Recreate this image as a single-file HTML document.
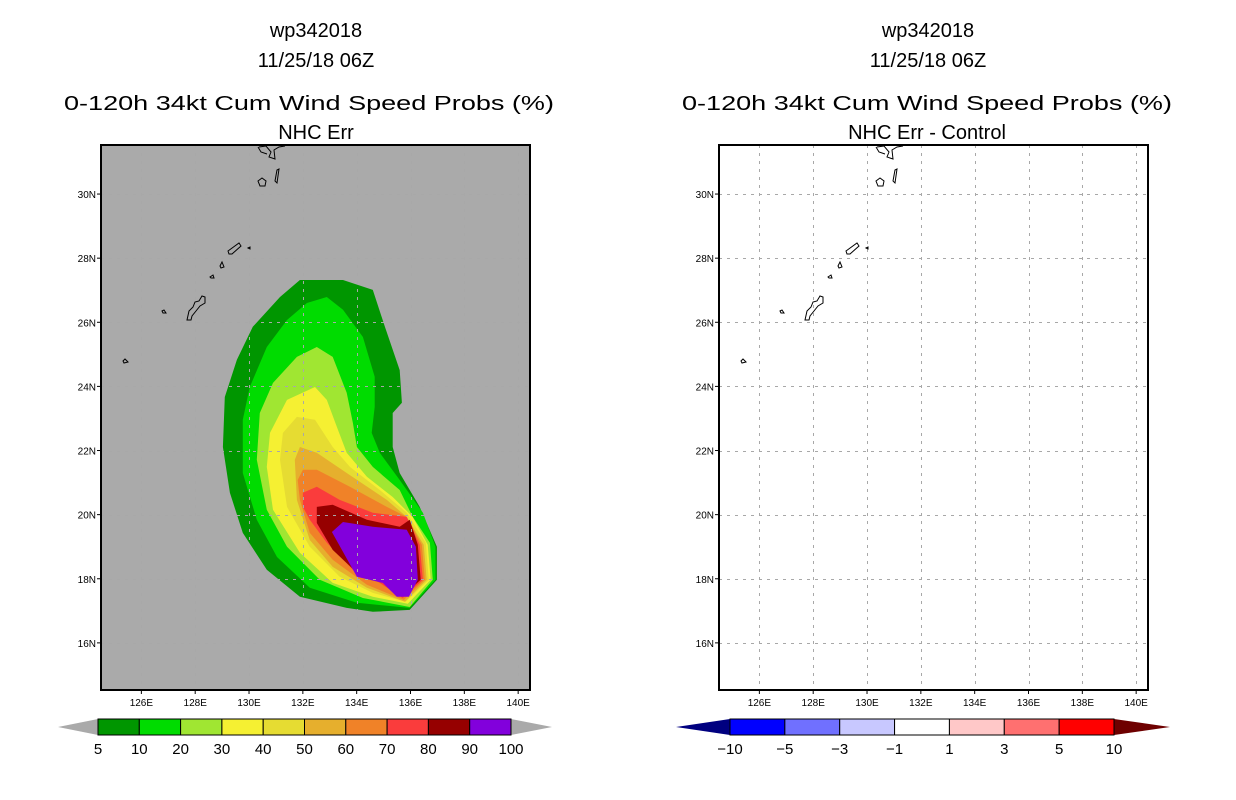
<!DOCTYPE html>
<html><head><meta charset="utf-8">
<style>
html,body{margin:0;padding:0;background:#fff;}
svg{display:block;font-family:"Liberation Sans",sans-serif;}
</style></head>
<body>
<svg id="root" width="1236" height="800" viewBox="0 0 1236 800">
  <g font-size="20" text-anchor="middle" fill="#000">
    <text x="316" y="37">wp342018</text>
    <text x="316" y="67">11/25/18 06Z</text>
    <text x="309" y="110" textLength="490" lengthAdjust="spacingAndGlyphs">0-120h 34kt Cum Wind Speed Probs (%)</text>
    <text x="316" y="139">NHC Err</text>
  </g>
  <g font-size="20" text-anchor="middle" fill="#000">
    <text x="928" y="37">wp342018</text>
    <text x="928" y="67">11/25/18 06Z</text>
    <text x="927" y="110" textLength="490" lengthAdjust="spacingAndGlyphs">0-120h 34kt Cum Wind Speed Probs (%)</text>
    <text x="927" y="139">NHC Err - Control</text>
  </g>
  <g id="leftPanel"></g>
  <g id="rightPanel"></g>
  <g id="leftBar"></g>
  <g id="rightBar"></g>
</svg>
<script>
// ---- data ----
const lonTicks = [126,128,130,132,134,136,138,140];
const latTicks = [16,18,20,22,24,26,28,30];
const probLevels = [5,10,20,30,40,50,60,70,80,90,100];
const probColors = ["#009600","#00dc00","#a0e632","#f5f032","#e6dc32","#e6af2d","#f08228","#fa3c3c","#960000","#8200dc"];
const diffLevels = [-10,-5,-3,-1,1,3,5,10];
const diffColors = ["#0000ff","#7070ff","#c8c8ff","#ffffff","#ffc8c8","#ff7070","#ff0000"];
// contour polygons (lon, lat) for each probability band
const c5Lon = [132.52,133.49,134.60,135.05,135.60,135.68,135.34,135.34,135.60,136.34,136.98,136.98,135.97,134.60,133.63,131.89,130.66,129.77,129.29,129.03,129.10,129.55,130.14,131.15,131.89];
const c5Lat = [27.32,27.32,27.01,25.86,24.51,23.49,23.17,22.11,21.30,20.24,19.00,17.97,17.03,16.97,17.09,17.44,18.28,19.43,20.68,22.11,23.67,24.83,25.86,26.79,27.32];
const c10Lon = [132.89,133.49,134.23,134.67,134.67,134.56,134.86,135.60,136.46,136.93,136.93,135.97,134.01,132.26,131.04,130.29,129.77,129.77,130.03,130.66,131.41,132.15];
const c10Lat = [26.79,26.39,25.54,24.30,23.36,22.55,21.93,21.08,20.06,19.00,17.97,17.09,17.25,17.72,18.68,19.84,21.30,22.96,23.98,25.23,26.07,26.60];
const c20Lon = [132.52,133.11,133.63,133.86,134.01,134.60,135.60,136.08,136.72,136.83,135.97,134.23,132.63,131.41,130.66,130.29,130.40,130.89,131.78];
const c20Lat = [25.23,24.92,23.80,22.86,22.11,21.49,20.77,19.93,19.12,17.97,17.12,17.40,17.97,19.00,20.15,21.71,23.17,24.11,24.92];
const c30Lon = [132.45,132.89,133.26,133.63,134.38,135.34,136.08,136.64,136.75,135.90,134.60,133.11,131.89,130.89,130.66,130.78,131.41];
const c30Lat = [23.98,23.58,22.74,21.93,21.18,20.55,19.93,19.06,17.97,17.22,17.44,17.87,18.81,20.15,21.49,22.55,23.58];
const c40Lon = [131.78,132.45,133.11,133.75,134.86,135.86,136.57,136.68,135.82,134.60,133.37,132.26,131.41,131.15,131.26];
const c40Lat = [23.05,22.96,22.11,21.49,20.77,20.06,19.12,17.97,17.28,17.56,18.06,19.00,20.24,21.71,22.55];
const c50Lon = [131.89,132.52,133.63,135.12,135.86,136.49,136.60,135.79,134.38,133.11,132.26,131.78,131.70];
const c50Lat = [22.11,21.93,21.30,20.46,19.93,19.06,17.97,17.28,17.72,18.37,19.21,20.46,21.71];
const c60Lon = [132.00,132.52,133.75,135.12,135.86,136.42,136.53,135.75,134.38,133.11,132.26,131.89,131.81];
const c60Lat = [21.40,21.40,20.87,20.24,19.93,19.06,17.97,17.34,17.81,18.59,19.43,20.46,21.08];
const c70Lon = [132.00,132.52,133.37,134.60,135.86,136.34,136.46,135.71,134.86,133.86,132.89,132.26,132.00];
const c70Lat = [20.68,20.87,20.46,20.06,19.93,19.06,17.97,17.40,17.87,18.28,19.12,19.84,20.24];
const c80Lon = [132.52,133.11,134.38,135.60,135.97,136.27,136.38,135.68,134.97,134.01,133.11,132.52];
const c80Lat = [20.24,20.31,19.84,19.62,19.84,19.06,17.97,17.44,17.97,18.19,18.90,19.74];
const c90Lon = [133.08,133.49,134.60,135.86,136.20,136.27,135.94,135.49,134.97,134.01];
const c90Lat = [19.46,19.77,19.62,19.53,19.00,17.97,17.44,17.44,17.87,18.06];
const bandLons = [c5Lon,c10Lon,c20Lon,c30Lon,c40Lon,c50Lon,c60Lon,c70Lon,c80Lon,c90Lon];
const bandLats = [c5Lat,c10Lat,c20Lat,c30Lat,c40Lat,c50Lat,c60Lat,c70Lat,c80Lat,c90Lat];

// ---- axes ----
const LON0=124.5, LON1=140.44, LAT0=14.53, LAT1=31.53;
const PW=429, PH=545, PY=145;
function xScale(lon, px){ return px + (lon-LON0)/(LON1-LON0)*PW; }
function yScale(lat){ return PY + (LAT1-lat)/(LAT1-LAT0)*PH; }

const NS="http://www.w3.org/2000/svg";
function mk(tag, attrs, parent){
  const e=document.createElementNS(NS,tag);
  for(const k in attrs) e.setAttribute(k, attrs[k]);
  parent.appendChild(e); return e;
}
// island outlines, pixel offsets relative to panel left (decorative coastline)
const islands = [
  "M158,147 L165,146 L170,152 L168,157 L174,159 L173,150 L178,147 L184,146 M157,147 L160,152 L166,154",
  "M157,181 L161,178 L165,181 L164,186 L159,186 Z",
  "M174,181 L176,170 L178,169 L176,183 Z",
  "M127,251 L138,243 L140,246 L131,254 L128,254 Z",
  "M147,248 L149,247 L149,249 Z",
  "M119,266 L121,262 L123,267 L120,268 Z",
  "M109,277 L112,275 L113,278 L110,278 Z",
  "M86,320 L88,311 L92,307 L94,302 L98,301 L101,296 L104,297 L104,303 L99,306 L95,311 L91,316 L90,320 Z",
  "M61,311 L63,310 L65,313 L62,313 Z",
  "M22,361 L24,359 L27,362 L23,363 Z"
];

function drawPanel(g, px, filled){
  mk('rect',{x:px,y:PY,width:PW,height:PH,fill:filled?'#aaaaaa':'#ffffff',},g);
  if(filled){
    for(let b=0;b<bandLons.length;b++){
      const pts=bandLons[b].map((lo,i)=>xScale(lo,px).toFixed(1)+','+yScale(bandLats[b][i]).toFixed(1)).join(' ');
      const p=mk('polygon',{points:pts,fill:probColors[b]},g);
      
      
    }
  }
  const grid=mk('g',{stroke:'#a8a8a8','stroke-width':1,'stroke-dasharray':'3,5',fill:'none'},g);
  
  
  lonTicks.forEach(lo=>{const x=Math.round(xScale(lo,px))+0.5; mk('line',{x1:x,y1:PY,x2:x,y2:PY+PH},grid);});
  latTicks.forEach(la=>{const y=Math.round(yScale(la))+0.5; mk('line',{x1:px,y1:y,x2:px+PW,y2:y},grid);});
  const isl=mk('g',{stroke:'#000','stroke-width':1,fill:'none',transform:'translate('+px+',0)'},g);
  
  
  islands.forEach(d=>mk('path',{d:d},isl));
  mk('rect',{x:px,y:PY,width:PW,height:PH,fill:'none',stroke:'#000','stroke-width':2,},g);
  const ax=mk('g',{'font-size':10,fill:'#000'},g);
  
  
  lonTicks.forEach(lo=>{
    const x=xScale(lo,px);
    mk('line',{x1:x,y1:PY+PH,x2:x,y2:PY+PH+4,stroke:'#000'},ax);
    const t=mk('text',{x:x,y:PY+PH+16,'text-anchor':'middle'},ax); t.textContent=lo+'E';
    
    
  });
  latTicks.forEach(la=>{
    const y=yScale(la);
    mk('line',{x1:px-4,y1:y,x2:px,y2:y,stroke:'#000'},ax);
    const t=mk('text',{x:px-5,y:y+4,'text-anchor':'end'},ax); t.textContent=la+'N';
    
    
  });
}
drawPanel(document.getElementById('leftPanel'),101,true);
drawPanel(document.getElementById('rightPanel'),719,false);

function drawBar(g, x0, x1, tipL, tipR, colors, levels, lcol, rcol){
  const y0=719,y1=735,ym=727;
  const n=colors.length, w=(x1-x0)/n;
  mk('polygon',{points:`${tipL},${ym} ${x0},${y0} ${x0},${y1}`,fill:lcol,},g);
  mk('polygon',{points:`${tipR},${ym} ${x1},${y0} ${x1},${y1}`,fill:rcol,},g);
  colors.forEach((c,i)=>{
    const r=mk('rect',{x:x0+i*w,y:y0,width:w,height:y1-y0,fill:c,stroke:'#000','stroke-width':1},g);
    
    
  });
  levels.forEach((v,i)=>{
    const t=mk('text',{x:x0+i*w,y:754,'text-anchor':'middle','font-size':15,fill:'#000'},g);
    t.textContent=(v<0?'\u2212'+(-v):String(v));
    
    
  });
}
drawBar(document.getElementById('leftBar'),98,511,58,552,probColors,probLevels,'#aaaaaa','#aaaaaa');
drawBar(document.getElementById('rightBar'),730,1114,676,1170,diffColors,diffLevels,'#000080','#6e0000');
</script>
</body></html>
